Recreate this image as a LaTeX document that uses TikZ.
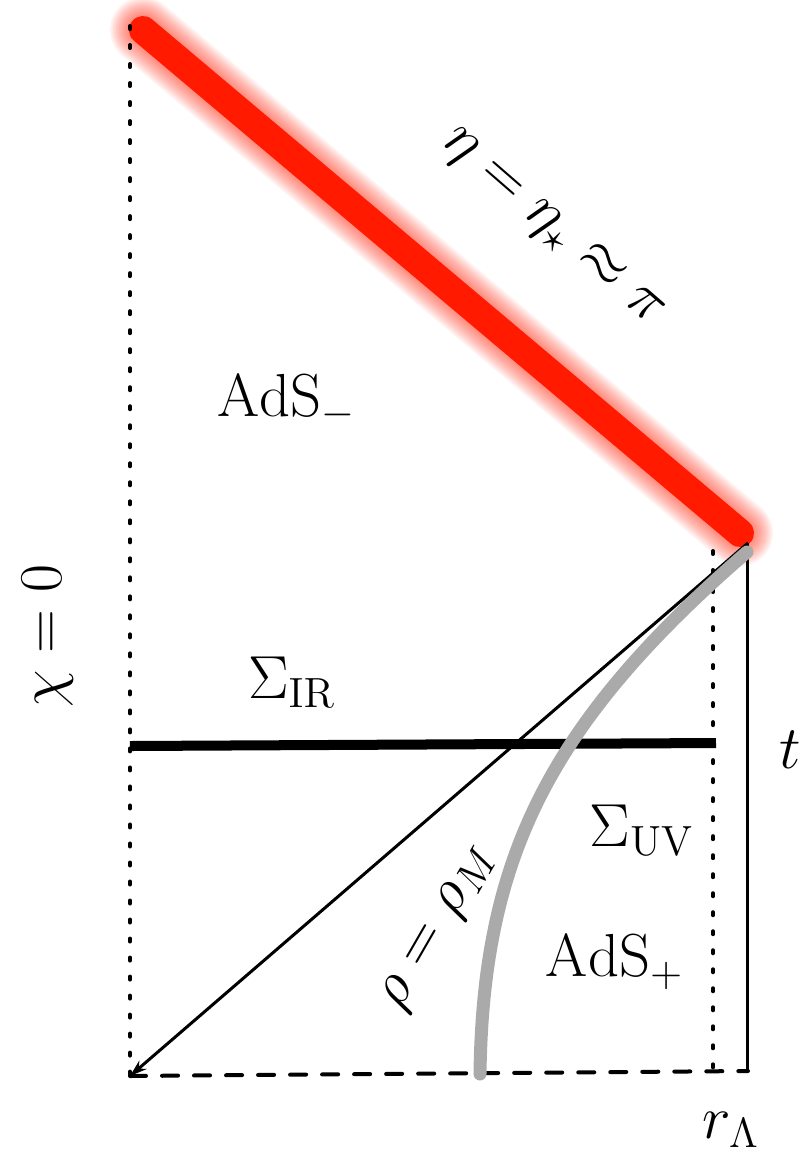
\documentclass[tikz,border=0pt]{standalone}
\usepackage{amsmath,amssymb}
\usetikzlibrary{arrows.meta}
\definecolor{hotred}{HTML}{FF1A00}
\definecolor{curvegray}{HTML}{AAAAAA}

\begin{document}
\begin{tikzpicture}[x=0.01cm,y=-0.01cm,every node/.style={font=\fontsize{18}{22}\selectfont},dotline/.style={line width=0.04cm,line cap=round,dash pattern=on 0.03cm off 0.16cm},dashline/.style={line width=0.04cm,line cap=round,dash pattern=on 0.16cm off 0.16cm},thinline/.style={line width=0.03cm}]
\useasboundingbox (0,0) rectangle (804,1156);
\coordinate (etatop) at (143,30);
\coordinate (etabot) at (740,533);
\coordinate (axtop) at (130,26);
\coordinate (bl) at (130,1076);
\coordinate (br) at (748,1071);
\coordinate (corner) at (748,543);
\coordinate (uvtop) at (713,551);
\coordinate (uvbot) at (713,1073);
\coordinate (irleft) at (130,746);
\coordinate (irright) at (716,743);
\coordinate (rhobot) at (480,1074);
\coordinate (rhotop) at (747,552);
% red wall with glow
\foreach \w in {0.66,0.63,...,0.30} \draw[hotred,opacity=0.05,line width=\w cm,line cap=round] (etatop)--(etabot);
\draw[hotred,line width=0.28cm,line cap=round] (etatop)--(etabot);
% frame
\draw[dotline] (axtop)--(bl);
\draw[dotline] (uvtop)--(uvbot);
\draw[dashline] (bl)--(br);
\draw[thinline] (br)--(corner);
\draw[thinline,-{Stealth[length=0.17cm,width=0.11cm]}] (corner)--(bl);
\draw[line width=0.1cm] (irleft)--(irright);
\draw[curvegray,line width=0.13cm,line cap=round] (rhobot) .. controls (483,860) and (547,725) .. (rhotop);
% labels
\node[rotate=-41] (etalabel) at (552,228) {$\eta=\eta_\star\approx\pi$};
\node (adsminus) at (287,402) {$\mathrm{AdS}_-$};
\node[rotate=90] (chilabel) at (48,636) {$\chi=0$};
\node (sigmair) at (292,682) {$\Sigma_{\mathrm{IR}}$};
\node (tlabel) at (790,750) {$t$};
\node (sigmauv) at (642,830) {$\Sigma_{\mathrm{UV}}$};
\node[rotate=60] (rholabel) at (440,928) {$\rho=\rho_M$};
\node (adsplus) at (615,962) {$\mathrm{AdS}_+$};
\node (rlabel) at (731,1130) {$r_\Lambda$};
\end{tikzpicture}
\end{document}
